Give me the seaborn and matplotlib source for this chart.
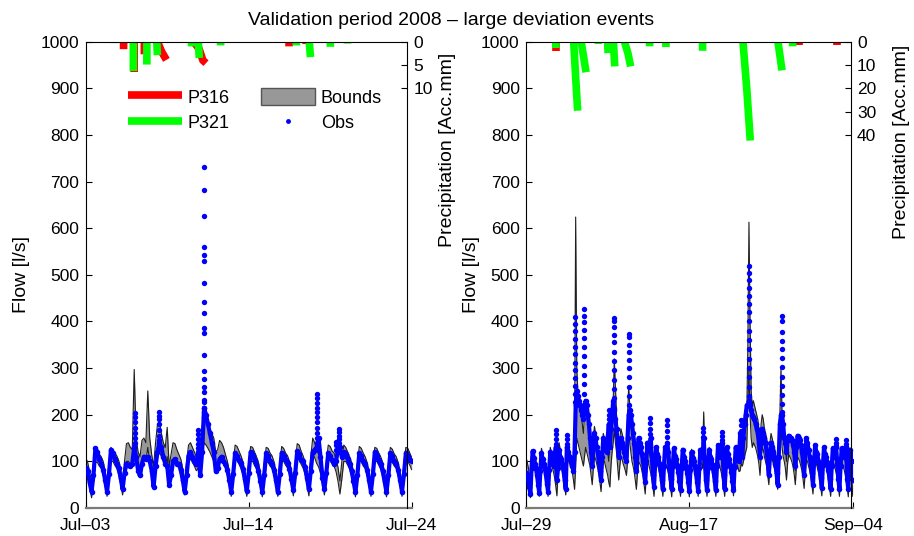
import numpy as np
import pandas as pd
import matplotlib
matplotlib.use("Agg")
import matplotlib.pyplot as plt
import seaborn as sns
from matplotlib.lines import Line2D
from matplotlib.patches import Patch

nan = float("nan")

# ---------------- text ----------------
TITLE = "Validation period 2008 – large deviation events"
FLOW_LABEL = "Flow [l/s]"
PREC_LABEL = "Precipitation [Acc.mm]"
left_xticklabels = ["Jul–03", "Jul–14", "Jul–24"]
right_xticklabels = ["Jul–29", "Aug–17", "Sep–04"]
legend_labels = ["P316", "P321", "Bounds", "Obs"]
flow_ticks = [0, 100, 200, 300, 400, 500, 600, 700, 800, 900, 1000]
left_prec_ticks = [0, 5, 10]
right_prec_ticks = [0, 10, 20, 30, 40]
left_days = 21
right_days = 37
step_days = 0.125  # 3-hourly values

# ---------------- left period (Jul-03 .. Jul-24), 3-hourly ----------------
left_upper = [
    108, 98, 78, 48, 92, 128, 122, 115,
    110, 100, 80, 50, 96, 130, 125, 118,
    112, 102, 85, 55, 100, 138, 140, 130,
    125, 297, 150, 120, 110, 145, 150, 140,
    251, 150, 115, 90, 140, 180, 185, 160,
    140, 130, 173, 90, 115, 140, 138, 125,
    115, 105, 85, 55, 100, 135, 140, 130,
    120, 110, 130, 140, 175, 190, 188, 180,
    170, 160, 150, 120, 125, 145, 140, 130,
    115, 100, 80, 50, 95, 135, 132, 122,
    112, 100, 80, 50, 96, 132, 130, 120,
    110, 98, 78, 48, 95, 130, 128, 118,
    112, 100, 80, 50, 96, 132, 128, 118,
    112, 100, 82, 52, 98, 138, 135, 122,
    112, 100, 82, 52, 110, 150, 140, 125,
    115, 102, 85, 55, 100, 135, 132, 122,
    118, 105, 88, 58, 100, 135, 130, 120,
    110, 98, 78, 48, 95, 132, 128, 118,
    110, 98, 78, 48, 96, 130, 128, 118,
    110, 98, 78, 48, 95, 130, 126, 116,
    110, 98, 78, 48, 96, 130, 128, 118,
    108,
]
left_lower = [
    82, 70, 48, 22, 55, 98, 98, 90,
    85, 72, 50, 25, 58, 100, 100, 92,
    85, 72, 52, 28, 60, 100, 100, 95,
    90, 120, 95, 70, 65, 100, 108, 100,
    130, 100, 80, 55, 90, 115, 120, 110,
    100, 90, 110, 55, 80, 105, 108, 98,
    85, 72, 52, 28, 60, 100, 105, 98,
    90, 80, 85, 95, 120, 140, 135, 128,
    120, 110, 100, 75, 85, 110, 108, 100,
    85, 72, 50, 25, 58, 102, 102, 94,
    85, 72, 50, 25, 58, 100, 100, 92,
    84, 70, 48, 24, 56, 98, 98, 90,
    85, 72, 50, 25, 58, 100, 100, 92,
    86, 74, 52, 26, 60, 104, 104, 94,
    86, 74, 52, 26, 70, 115, 108, 96,
    88, 75, 55, 28, 62, 102, 102, 94,
    90, 78, 58, 30, 62, 100, 100, 92,
    84, 70, 48, 24, 56, 100, 100, 90,
    85, 72, 50, 25, 58, 100, 100, 92,
    84, 70, 48, 24, 56, 98, 98, 90,
    85, 72, 50, 25, 58, 100, 100, 92,
    82,
]
left_obs = [
    85, 80, 55, 35, 70, 128, 120, 105,
    95, 82, 60, 35, 72, 125, 118, 105,
    95, 85, 65, 40, 75, 95, 92, 90,
    95, 130, 110, 80, 70, 95, 110, 105,
    110, 100, 80, 45, 90, 120, 140, 130,
    110, 95, 90, 50, 70, 100, 105, 95,
    95, 82, 60, 35, 70, 112, 120, 110,
    100, 95, 120, 70, 120, 215, 200, 180,
    160, 140, 120, 80, 85, 105, 110, 100,
    95, 82, 60, 35, 72, 118, 112, 102,
    96, 84, 62, 36, 74, 120, 114, 104,
    94, 80, 58, 34, 70, 118, 112, 100,
    95, 82, 60, 35, 72, 118, 112, 102,
    96, 84, 62, 38, 75, 122, 115, 104,
    100, 88, 65, 40, 80, 120, 125, 130,
    150, 110, 65, 40, 75, 118, 112, 102,
    95, 100, 125, 130, 110, 120, 115, 105,
    94, 80, 58, 34, 70, 118, 112, 100,
    95, 82, 60, 35, 72, 120, 114, 102,
    94, 80, 58, 34, 70, 118, 112, 100,
    95, 82, 60, 35, 72, 118, 112, 102,
    100,
]
# observed dots during the rapid peaks (day, values)
left_peak_days = [3.2, 4.75, 7.25, 7.6, 14.88, 16.1, 16.34]
left_peak_vals = [
    [203, 195, 185, 172, 160, 150, 140],
    [205, 198, 190, 180, 168, 155, 145],
    [167, 158, 148, 138, 128],
    [731, 683, 627, 560, 542, 530, 483, 441, 419, 387, 376, 328, 294,
     276, 260, 248, 232, 228, 215, 205, 195],
    [244, 236, 226, 215, 205, 195, 185, 172, 160, 150, 140],
    [142, 135, 125],
    [169, 162, 155, 148, 140, 132],
]
# accumulated precipitation per event (NaN separates events)
p316_left_t = [2.44, 2.44, nan, 3.12, 3.12, nan, 3.78, 3.78, nan,
               4.62, 4.9, 5.2, nan, 6.95, 7.3, 7.55, 7.75, nan,
               13.1, 13.1, nan, 14.2, 14.2]
p316_left_v = [0, 1.6, nan, 0, 6.5, nan, 0, 2.7, nan,
               0, 2.2, 3.9, nan, 0, 1.5, 4.0, 4.6, nan,
               0, 1.0, nan, 0, 0.5]
p321_left_t = [1.82, 1.82, nan, 3.07, 3.07, nan, 3.94, 3.94, nan,
               4.58, 4.62, nan, 6.82, 6.82, nan, 7.25, 7.32, nan,
               8.69, 8.69, nan, 13.57, 13.57, nan, 14.4, 14.48, nan,
               15.76, 15.76, nan, 16.86, 16.86]
p321_left_v = [0, 0.3, nan, 0, 6.3, nan, 0, 4.9, nan,
               0, 2.9, nan, 0, 1.0, nan, 0, 3.5, nan,
               0, 0.8, nan, 0, 0.8, nan, 0, 3.3, nan,
               0, 1.1, nan, 0, 0.4]

# ---------------- right period (Jul-29 .. Sep-04), 3-hourly ----------------
right_upper = [
    108, 100, 88, 70, 48, 100, 125, 115,
    108, 100, 88, 70, 45, 100, 128, 118,
    110, 100, 88, 70, 48, 100, 130, 120,
    112, 102, 90, 72, 50, 105, 140, 125,
    112, 102, 90, 72, 50, 105, 135, 130,
    120, 110, 100, 95, 150, 624, 300, 250,
    230, 220, 200, 180, 160, 200, 220, 200,
    180, 170, 160, 130, 100, 150, 175, 160,
    140, 130, 115, 95, 70, 120, 160, 150,
    140, 130, 120, 100, 130, 180, 200, 230,
    320, 260, 200, 150, 110, 150, 170, 160,
    150, 140, 130, 120, 200, 260, 220, 180,
    150, 135, 120, 100, 75, 115, 140, 130,
    125, 112, 100, 82, 58, 105, 130, 122,
    115, 105, 92, 72, 48, 100, 128, 118,
    115, 105, 92, 72, 48, 100, 126, 116,
    114, 104, 90, 70, 46, 98, 126, 116,
    115, 105, 92, 72, 48, 100, 128, 118,
    114, 104, 90, 70, 46, 98, 126, 116,
    115, 105, 92, 72, 48, 100, 128, 118,
    115, 206, 120, 80, 50, 100, 130, 120,
    115, 105, 92, 72, 48, 100, 128, 118,
    115, 105, 92, 72, 48, 100, 128, 118,
    116, 106, 94, 74, 50, 102, 130, 120,
    118, 108, 130, 150, 130, 140, 160, 170,
    200, 350, 613, 400, 250, 220, 230, 220,
    210, 200, 190, 170, 140, 180, 200, 190,
    170, 160, 150, 130, 100, 140, 160, 150,
    140, 130, 120, 100, 80, 150, 200, 300,
    200, 160, 150, 130, 100, 140, 150, 145,
    140, 135, 125, 110, 80, 125, 145, 140,
    135, 125, 115, 95, 70, 120, 140, 135,
    122, 110, 96, 76, 52, 102, 130, 120,
    118, 106, 94, 74, 50, 100, 128, 118,
    116, 105, 92, 72, 48, 100, 128, 118,
    116, 105, 92, 72, 48, 100, 126, 116,
    115, 104, 92, 72, 48, 98, 122, 112,
    100,
]
right_lower = [
    82, 72, 60, 42, 22, 68, 98, 92,
    85, 75, 62, 45, 25, 70, 100, 95,
    85, 75, 62, 45, 25, 70, 102, 95,
    86, 76, 64, 46, 26, 72, 105, 98,
    88, 78, 65, 48, 28, 75, 105, 100,
    90, 85, 75, 60, 40, 90, 150, 140,
    130, 120, 110, 100, 90, 110, 130, 120,
    110, 100, 90, 70, 50, 85, 110, 105,
    95, 85, 72, 55, 35, 75, 105, 100,
    90, 80, 70, 55, 45, 90, 120, 140,
    170, 140, 120, 90, 60, 90, 110, 105,
    95, 88, 80, 70, 100, 150, 140, 120,
    100, 90, 78, 60, 40, 75, 100, 95,
    90, 80, 68, 50, 30, 72, 100, 95,
    85, 75, 62, 45, 25, 70, 100, 95,
    85, 75, 62, 45, 25, 70, 98, 92,
    84, 74, 60, 44, 24, 68, 98, 92,
    85, 75, 62, 45, 25, 70, 100, 95,
    84, 74, 60, 44, 24, 68, 98, 92,
    85, 75, 62, 45, 25, 70, 100, 95,
    85, 130, 70, 45, 25, 70, 100, 95,
    85, 75, 62, 45, 25, 70, 100, 95,
    85, 75, 62, 45, 25, 70, 100, 95,
    86, 76, 64, 46, 26, 72, 102, 96,
    88, 78, 80, 95, 90, 100, 110, 120,
    130, 220, 300, 200, 150, 130, 140, 135,
    130, 120, 110, 95, 70, 110, 130, 125,
    110, 100, 90, 70, 50, 90, 110, 105,
    95, 85, 75, 60, 40, 90, 130, 180,
    130, 110, 100, 85, 60, 95, 115, 110,
    105, 98, 88, 72, 50, 88, 110, 105,
    100, 90, 80, 62, 42, 80, 105, 100,
    90, 80, 68, 50, 30, 72, 100, 95,
    86, 76, 64, 46, 26, 70, 100, 95,
    85, 75, 62, 45, 25, 70, 100, 95,
    85, 75, 62, 45, 25, 70, 98, 92,
    84, 74, 60, 44, 24, 68, 95, 88,
    25,
]
right_obs = [
    75, 70, 60, 45, 30, 85, 122, 108,
    95, 85, 70, 50, 32, 80, 118, 105,
    95, 85, 72, 52, 35, 82, 120, 108,
    100, 90, 110, 130, 60, 85, 125, 110,
    105, 95, 80, 60, 40, 130, 120, 110,
    110, 100, 90, 80, 120, 220, 250, 240,
    230, 220, 210, 200, 190, 220, 230, 220,
    200, 180, 150, 120, 90, 130, 160, 150,
    130, 120, 100, 80, 60, 110, 150, 140,
    130, 120, 150, 180, 130, 170, 200, 230,
    210, 190, 170, 140, 110, 140, 150, 140,
    130, 120, 110, 100, 150, 200, 210, 200,
    180, 160, 140, 110, 80, 120, 150, 140,
    130, 115, 100, 80, 55, 100, 140, 125,
    130, 150, 110, 70, 45, 95, 130, 115,
    110, 95, 80, 60, 40, 90, 130, 115,
    140, 120, 85, 62, 40, 90, 128, 112,
    105, 92, 78, 58, 38, 85, 125, 110,
    100, 90, 75, 55, 36, 82, 120, 108,
    100, 90, 75, 55, 36, 85, 125, 110,
    110, 150, 100, 60, 38, 85, 125, 110,
    105, 92, 78, 58, 38, 90, 135, 115,
    110, 120, 140, 70, 40, 90, 130, 115,
    105, 92, 78, 58, 38, 88, 130, 115,
    110, 100, 160, 140, 110, 150, 180, 200,
    220, 220, 230, 220, 210, 200, 195, 190,
    180, 170, 160, 140, 110, 140, 170, 160,
    150, 140, 120, 100, 70, 110, 140, 130,
    120, 110, 95, 75, 50, 110, 180, 200,
    200, 180, 150, 140, 120, 145, 155, 150,
    150, 145, 135, 120, 90, 130, 155, 150,
    145, 135, 120, 100, 70, 120, 150, 140,
    125, 110, 95, 75, 50, 100, 135, 120,
    115, 100, 85, 65, 42, 92, 130, 115,
    110, 98, 82, 62, 40, 90, 128, 112,
    110, 130, 95, 62, 40, 90, 128, 112,
    110, 120, 130, 62, 40, 90, 125, 100,
    60,
]
right_peak_days = [3.36, 4.68, 5.6, 6.57, 9.4, 10.0, 11.7, 14.08, 15.97,
                   20.1, 22.2, 24.3, 25.25, 28.95, 35.1, 36.2]
right_peak_vals = [
    [167, 158, 148, 138],
    [156, 148, 138],
    [410, 395, 380, 362, 345, 330, 312, 295, 278, 262, 245, 228],
    [426, 412, 398, 382, 365, 345, 325, 305, 285, 265, 245],
    [210, 200, 190],
    [407, 400, 388, 372, 355, 335, 315, 295, 275, 255, 235, 215],
    [373, 366, 350, 335, 318, 300, 280, 260, 240, 220],
    [192, 182, 170, 158],
    [188, 178, 165, 152],
    [172, 162, 152],
    [163, 155, 145],
    [188, 178, 165],
    [518, 505, 490, 472, 455, 438, 420, 400, 380, 360, 340, 320, 300,
     280, 260, 240, 220],
    [411, 402, 378, 358, 342, 322, 302, 282, 262, 242, 222, 205],
    [148, 140, 132],
    [145, 138, 130],
]
p316_right_t = [3.42, 3.42, nan, 30.9, 30.9, nan, 35.2, 35.2]
p316_right_v = [0, 4.1, nan, 0, 1.3, nan, 0, 1.3]
p321_right_t = [3.38, 3.38, nan, 4.7, 4.7, nan, 5.4, 5.62, 5.85, nan,
                6.25, 6.8, nan, 8.2, 8.2, nan, 9.25, 9.3, nan,
                9.9, 10.05, nan, 11.15, 11.55, 11.85, nan, 13.3, 13.3, nan,
                14.0, 14.0, nan, 15.85, 15.85, nan, 20.0, 20.0, nan,
                24.57, 25.0, 25.4, nan, 28.54, 28.99, nan, 30.2, 30.2, nan,
                33.9, 33.9, nan, 36.2, 36.2]
p321_right_v = [0, 2.7, nan, 0, 0.5, nan, 0, 15, 29.6, nan,
                0, 13.1, nan, 0, 1.0, nan, 0, 4.9, nan,
                0, 10.6, nan, 0, 5, 10.6, nan, 0, 0.6, nan,
                0, 2.0, nan, 0, 2.3, nan, 0, 3.9, nan,
                0, 20, 42.4, nan, 0, 12.3, nan, 0, 2.0, nan,
                0, 0.5, nan, 0, 0.5]

# ---------------- style ----------------
GRAY = "#989898"
EDGE = "#1e1e1e"
BLUE = "#0000ff"
RED = "#ff0000"
GREEN = "#00ff00"

sns.set_theme(style="white")
plt.rcParams["font.family"] = ["Liberation Sans", "DejaVu Sans"]
plt.rcParams.update({
    "text.color": "black", "axes.labelcolor": "black",
    "xtick.color": "black", "ytick.color": "black",
    "axes.edgecolor": "black", "axes.linewidth": 0.8,
})

W, H = 914, 536
fig = plt.figure(figsize=(W / 100, H / 100), dpi=100)
fig.patch.set_facecolor("white")


def frac_rect(x0, x1, ytop, ybot):
    return [x0 / W, 1 - ybot / H, (x1 - x0) / W, (ybot - ytop) / H]


def flow_frame(upper, lower, obs):
    t = np.arange(len(obs)) * step_days
    return pd.DataFrame({"t": t, "upper": upper, "lower": lower, "obs": obs})


def peak_frame(days, vals):
    rows = [(d, v) for d, vs in zip(days, vals) for v in vs]
    return pd.DataFrame(rows, columns=["t", "obs"])


def draw_panel(px0, px1_flow, px1_prec, df, pk, days, xticklabels,
               p316_t, p316_v, p321_t, p321_v, prec_max, prec_ticks,
               flow_label_px, prec_label_px, prec_label_py):
    ytop, ybot = 41.7, 508.0
    ax = fig.add_axes(frac_rect(px0, px1_flow, ytop, ybot))
    ax.fill_between(df["t"], df["lower"], df["upper"], color=GRAY, lw=0, zorder=1)
    sns.lineplot(data=df, x="t", y="upper", color=EDGE, lw=0.8, ax=ax,
                 estimator=None, sort=False, zorder=2)
    sns.lineplot(data=df, x="t", y="lower", color=EDGE, lw=0.8, ax=ax,
                 estimator=None, sort=False, zorder=2)
    sns.lineplot(data=df, x="t", y="obs", color=BLUE, lw=3.0, ax=ax,
                 estimator=None, sort=False, zorder=3)
    sns.scatterplot(data=df, x="t", y="obs", color=BLUE, s=16, linewidth=0,
                    ax=ax, zorder=4)
    sns.scatterplot(data=pk, x="t", y="obs", color=BLUE, s=15, linewidth=0,
                    ax=ax, zorder=4)
    ax.set_xlim(0, days)
    ax.set_ylim(0, 1000)
    ax.set_xticks([0, days / 2, days])
    ax.set_xticklabels(xticklabels)
    ax.set_yticks(flow_ticks)
    ax.set_xlabel("")
    ax.set_ylabel(FLOW_LABEL, fontsize=14)
    width_flow = px1_flow - px0
    ax.yaxis.set_label_coords((flow_label_px - px0) / width_flow, 0.5)
    ax.yaxis.label.set_verticalalignment("center")
    ax.spines["top"].set_visible(False)
    ax.spines["right"].set_visible(False)
    ax.spines["bottom"].set_color("#7a7a7a")
    ax.spines["bottom"].set_linewidth(1.6)
    ax.tick_params(axis="both", direction="in", length=4, width=0.8,
                   labelsize=12.5, bottom=True, left=True, top=False,
                   right=False)
    ax.tick_params(axis="y", pad=4.5)
    ax.tick_params(axis="x", pad=7)
    ax.patch.set_visible(False)

    axp = fig.add_axes(frac_rect(px0, px1_prec, ytop, ybot))
    axp.patch.set_visible(False)
    axp.set_xlim(0, days * (px1_prec - px0) / width_flow)
    axp.plot(p316_t, p316_v, color=RED, lw=5.5, solid_capstyle="butt")
    axp.plot(p321_t, p321_v, color=GREEN, lw=5.5, solid_capstyle="butt")
    axp.set_ylim(prec_max, 0)
    axp.set_yticks(prec_ticks)
    axp.set_xticks([])
    axp.yaxis.tick_right()
    axp.yaxis.set_label_position("right")
    axp.tick_params(axis="y", direction="in", length=4, width=0.8,
                    labelsize=12.5, right=True, left=False, pad=4.5)
    for s in ["left", "bottom"]:
        axp.spines[s].set_visible(False)
    axp.set_ylabel(PREC_LABEL, fontsize=14)
    width_prec = px1_prec - px0
    axp.yaxis.set_label_coords((prec_label_px - px0) / width_prec,
                               (ybot - prec_label_py) / (ybot - ytop))
    axp.yaxis.label.set_verticalalignment("center")
    return ax, axp


left_df = flow_frame(left_upper, left_lower, left_obs)
right_df = flow_frame(right_upper, right_lower, right_obs)
left_pk = peak_frame(left_peak_days, left_peak_vals)
right_pk = peak_frame(right_peak_days, right_peak_vals)

axL, axLp = draw_panel(85.7, 411.7, 407.3, left_df, left_pk, left_days,
                       left_xticklabels, p316_left_t, p316_left_v,
                       p321_left_t, p321_left_v, 100, left_prec_ticks,
                       21, 448, 150)
axR, axRp = draw_panel(526.0, 852.7, 850.7, right_df, right_pk, right_days,
                       right_xticklabels, p316_right_t, p316_right_v,
                       p321_right_t, p321_right_v, 200, right_prec_ticks,
                       472, 902, 142)

handles = [
    Line2D([], [], color=RED, lw=5.5, solid_capstyle="butt"),
    Line2D([], [], color=GREEN, lw=5.5, solid_capstyle="butt"),
    Patch(facecolor=GRAY, edgecolor="#555555", linewidth=1.0),
    Line2D([], [], marker="o", ls="none", color=BLUE, markersize=3.5,
           markeredgewidth=0),
]
axLp.legend(handles, legend_labels, loc="upper left",
            bbox_to_anchor=(128 / W, 1 - 88 / H), bbox_transform=fig.transFigure,
            ncol=2, frameon=False, borderpad=0, borderaxespad=0,
            handlelength=3.0, handleheight=1.05, handletextpad=0.3,
            columnspacing=1.75, labelspacing=0.4, numpoints=1, fontsize=13)

fig.text(451 / W, 1 - 25 / H, TITLE, ha="center", va="baseline", fontsize=14)

fig.savefig("out.png", dpi=100, facecolor="white")
